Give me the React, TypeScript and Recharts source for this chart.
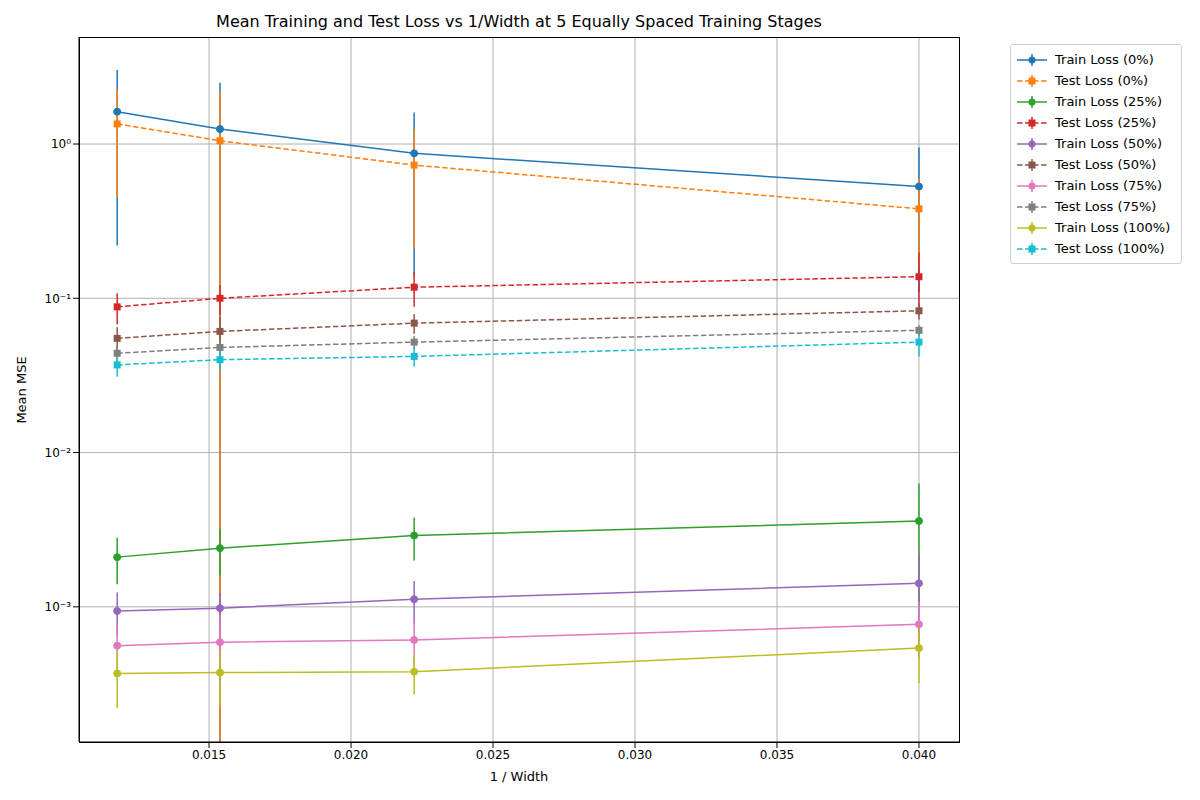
import { LineChart, Line, XAxis, YAxis, CartesianGrid, ErrorBar } from 'recharts';

const invWidth = [1 / 85, 1 / 65, 1 / 45, 1 / 25];
const stages = ['0%', '25%', '50%', '75%', '100%'];
const colors = ['#1f77b4', '#ff7f0e', '#2ca02c', '#d62728', '#9467bd', '#8c564b', '#e377c2', '#7f7f7f', '#bcbd22', '#17becf'];

const trainMean = [
  [1.62, 1.25, 0.87, 0.53],
  [0.0021, 0.0024, 0.0029, 0.0036],
  [0.00094, 0.00098, 0.00112, 0.00142],
  [0.00056, 0.00059, 0.00061, 0.00077],
  [0.00037, 0.000375, 0.00038, 0.00054],
];
const trainErr = [
  [1.4, 1.25, 0.73, 0.42],
  [0.0007, 0.0008, 0.0009, 0.0027],
  [0.0003, 0.00025, 0.00035, 0.0008],
  [0.0002, 0.0003, 0.0002, 0.0003],
  [0.00015, 0.00015, 0.00011, 0.00022],
];
const testMean = [
  [1.35, 1.05, 0.73, 0.38],
  [0.088, 0.1, 0.118, 0.138],
  [0.055, 0.061, 0.069, 0.083],
  [0.044, 0.048, 0.052, 0.062],
  [0.037, 0.04, 0.042, 0.052],
];
const testErr = [
  [0.9, 1.15, 0.52, 0.22],
  [0.02, 0.022, 0.03, 0.06],
  [0.01, 0.015, 0.01, 0.01],
  [0.005, 0.005, 0.005, 0.005],
  [0.006, 0.006, 0.006, 0.01],
];
const xTicks = [0.015, 0.02, 0.025, 0.03, 0.035, 0.04];
const yTicks = [0.001, 0.01, 0.1, 1];
const yMin = 1.33e-4;

const bounds = (v: number, e: number) => [v - Math.max(v - e, yMin), e];

const data = invWidth.map((x, i) => {
  const row: Record<string, any> = { x };
  stages.forEach((_, s) => {
    row[`tr${s}`] = trainMean[s][i];
    row[`tre${s}`] = bounds(trainMean[s][i], trainErr[s][i]);
    row[`te${s}`] = testMean[s][i];
    row[`tee${s}`] = bounds(testMean[s][i], testErr[s][i]);
  });
  return row;
});

const sup: Record<string, string> = { '-': '⁻', '0': '⁰', '1': '¹', '2': '²', '3': '³' };
const fmtY = (v: number) => '10' + String(Math.round(Math.log10(v))).split('').map((c) => sup[c]).join('');

const square = (color: string) => (p: any) => (
  <rect key={p.index} x={p.cx - 3.5} y={p.cy - 3.5} width={7} height={7} fill={color} />
);

const series = stages.flatMap((st, s) => [
  { key: `tr${s}`, err: `tre${s}`, name: `Train Loss (${st})`, color: colors[2 * s], dashed: false },
  { key: `te${s}`, err: `tee${s}`, name: `Test Loss (${st})`, color: colors[2 * s + 1], dashed: true },
]);

export default function App() {
  const font = 'DejaVu Sans, sans-serif';
  return (
    <div style={{ position: 'absolute', left: 0, top: 0, width: 1200, height: 800, background: '#fff', fontFamily: font }}>
      <div style={{ position: 'absolute', top: 12, left: 79, width: 880, textAlign: 'center', fontSize: 16 }}>
        Mean Training and Test Loss vs 1/Width at 5 Equally Spaced Training Stages
      </div>
      <div style={{ position: 'absolute', top: 769, left: 79, width: 880, textAlign: 'center', fontSize: 13 }}>1 / Width</div>
      <div style={{ position: 'absolute', left: 21, top: 390, transform: 'translate(-50%,-50%) rotate(-90deg)', fontSize: 13, whiteSpace: 'nowrap' }}>
        Mean MSE
      </div>
      <LineChart width={1200} height={800} data={data} margin={{ top: 37, right: 241, bottom: 0, left: 0 }}>
        <CartesianGrid stroke="#b0b0b0" horizontalValues={yTicks} verticalValues={xTicks} />
        <XAxis
          dataKey="x"
          type="number"
          domain={[0.01042, 0.04141]}
          ticks={xTicks}
          allowDataOverflow
          height={58}
          stroke="#000"
          tick={{ fill: '#000', fontSize: 12, fontFamily: font }}
          tickFormatter={(v) => v.toFixed(3)}
        />
        <YAxis
          scale="log"
          domain={[yMin, 4.94]}
          ticks={yTicks}
          allowDataOverflow
          width={79}
          stroke="#000"
          tick={{ fill: '#000', fontSize: 12, fontFamily: font }}
          tickFormatter={fmtY}
        />
        {series.map((sr) => (
          <Line
            key={sr.key}
            dataKey={sr.key}
            name={sr.name}
            stroke={sr.color}
            strokeWidth={1.5}
            strokeDasharray={sr.dashed ? '5.5 2.5' : undefined}
            dot={sr.dashed ? square(sr.color) : { r: 3.5, fill: sr.color, stroke: sr.color, strokeWidth: 1 }}
            isAnimationActive={false}
          >
            <ErrorBar dataKey={sr.err} direction="y" width={0} stroke={sr.color} strokeWidth={1.5} />
          </Line>
        ))}
      </LineChart>
      <div style={{ position: 'absolute', left: 79, top: 37, width: 879, height: 704, border: '1px solid #000', pointerEvents: 'none' }} />
      <div style={{ position: 'absolute', left: 1010, top: 44, width: 170, border: '1px solid #d0d0d0', borderRadius: 3, padding: '4px 0', fontSize: 13, background: '#fff' }}>
        {series.map((sr) => (
          <div key={sr.key} style={{ display: 'flex', alignItems: 'center', height: 21, paddingLeft: 6 }}>
            <svg width={30} height={12} style={{ marginRight: 8 }}>
              <line x1={0} x2={30} y1={6} y2={6} stroke={sr.color} strokeWidth={1.5} strokeDasharray={sr.dashed ? '5.5 2.5' : undefined} />
              <line x1={15} x2={15} y1={0} y2={12} stroke={sr.color} strokeWidth={1.5} />
              {sr.dashed ? <rect x={11.5} y={2.5} width={7} height={7} fill={sr.color} /> : <circle cx={15} cy={6} r={3.5} fill={sr.color} />}
            </svg>
            <span>{sr.name}</span>
          </div>
        ))}
      </div>
    </div>
  );
}
